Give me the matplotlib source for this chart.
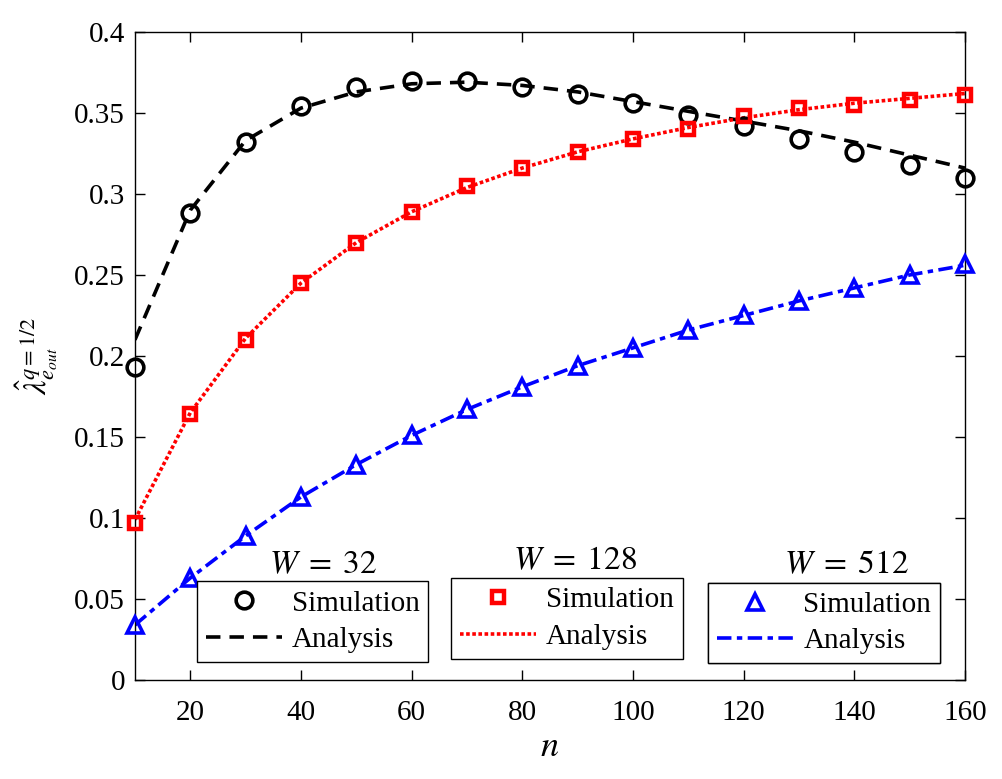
import matplotlib
matplotlib.use("Agg")
import matplotlib.pyplot as plt

plt.rcParams['font.family'] = ['Liberation Serif', 'DejaVu Serif']
plt.rcParams['mathtext.fontset'] = 'stix'

n = [10, 20, 30, 40, 50, 60, 70, 80, 90, 100, 110, 120, 130, 140, 150, 160]

sim_w32 = [0.193, 0.288, 0.332, 0.354, 0.366, 0.370, 0.370, 0.366, 0.362, 0.356,
           0.349, 0.342, 0.334, 0.326, 0.318, 0.310]
ana_w32 = [0.210, 0.290, 0.333, 0.353, 0.363, 0.368, 0.369, 0.367, 0.363, 0.357,
           0.351, 0.345, 0.339, 0.332, 0.324, 0.316]

sim_w128 = [0.097, 0.164, 0.210, 0.245, 0.270, 0.289, 0.305, 0.316, 0.326, 0.334,
            0.340, 0.348, 0.353, 0.355, 0.358, 0.361]
ana_w128 = [0.099, 0.165, 0.211, 0.245, 0.270, 0.289, 0.304, 0.316, 0.326, 0.334,
            0.341, 0.347, 0.352, 0.356, 0.359, 0.362]

sim_w512 = [0.034, 0.063, 0.089, 0.113, 0.133, 0.151, 0.167, 0.181, 0.194, 0.205,
            0.216, 0.225, 0.234, 0.242, 0.250, 0.257]
ana_w512 = [0.034, 0.063, 0.089, 0.113, 0.133, 0.151, 0.167, 0.181, 0.194, 0.205,
            0.216, 0.225, 0.234, 0.242, 0.250, 0.256]

xticks = [20, 40, 60, 80, 100, 120, 140, 160]
yticks = [0, 0.05, 0.1, 0.15, 0.2, 0.25, 0.3, 0.35, 0.4]
ytick_labels = ['0', '0.05', '0.1', '0.15', '0.2', '0.25', '0.3', '0.35', '0.4']

fig = plt.figure(figsize=(10.02, 7.79), dpi=100)
ax = fig.add_axes([0.1347, 0.1270, 0.8283, 0.8320])

s1, = ax.plot(n, sim_w32, linestyle='none', marker='o', ms=12, mew=2.6,
              mfc='none', mec='black', clip_on=False, zorder=3)
a1, = ax.plot(n, ana_w32, color='black', lw=2.6, linestyle=(0, (4, 2.5)))
s2, = ax.plot(n, sim_w128, linestyle='none', marker='s', ms=9, mew=3.2,
              mfc='none', mec='red', clip_on=False, zorder=3)
a2, = ax.plot(n, ana_w128, color='red', lw=2.6, linestyle=(0, (1, 0.7)))
s3, = ax.plot(n, sim_w512, linestyle='none', marker='^', ms=12, mew=2.6,
              mfc='none', mec='blue', clip_on=False, zorder=3)
a3, = ax.plot(n, ana_w512, color='blue', lw=2.6, linestyle=(0, (4, 1.5, 1.5, 1.5)))

ax.set_xlim(10, 160)
ax.set_ylim(0, 0.4)
ax.set_xticks(xticks)
ax.set_yticks(yticks)
ax.set_yticklabels(ytick_labels)
ax.tick_params(direction='in', top=True, right=True, labelsize=21, length=7, width=1)
ax.tick_params(axis='x', pad=14)
ax.tick_params(axis='y', pad=7)
for sp in ax.spines.values():
    sp.set_linewidth(1)
ax.set_xlabel('$n$', fontsize=26, labelpad=4)
ax.set_ylabel(r'$\hat{\lambda}^{q=1/2}_{e_{out}}$', fontsize=23, labelpad=10)

legkw = dict(fontsize=21, frameon=True, fancybox=False, edgecolor='black',
             framealpha=1, handlelength=2.6, handletextpad=0.35, borderpad=0.3,
             labelspacing=0.35, borderaxespad=0, loc='lower left')

boxes = [(0.0747, 0.028), (0.381, 0.033), (0.691, 0.026)]
titles = [r'$W\;=\;32$', r'$W\;=\;128$', r'$W\;=\;512$']
title_pos = [(0.227, 0.178), (0.530, 0.183), (0.857, 0.177)]
pairs = [(s1, a1), (s2, a2), (s3, a3)]

for (bx, by), (s, a) in zip(boxes, pairs):
    leg = ax.legend([s, a], ['Simulation', 'Analysis'], bbox_to_anchor=(bx, by), **legkw)
    leg.get_frame().set_linewidth(1)
    ax.add_artist(leg)

for t, (tx, ty) in zip(titles, title_pos):
    ax.text(tx, ty, t, transform=ax.transAxes, fontsize=24, ha='center', va='center')

fig.savefig('out.png', dpi=100)
